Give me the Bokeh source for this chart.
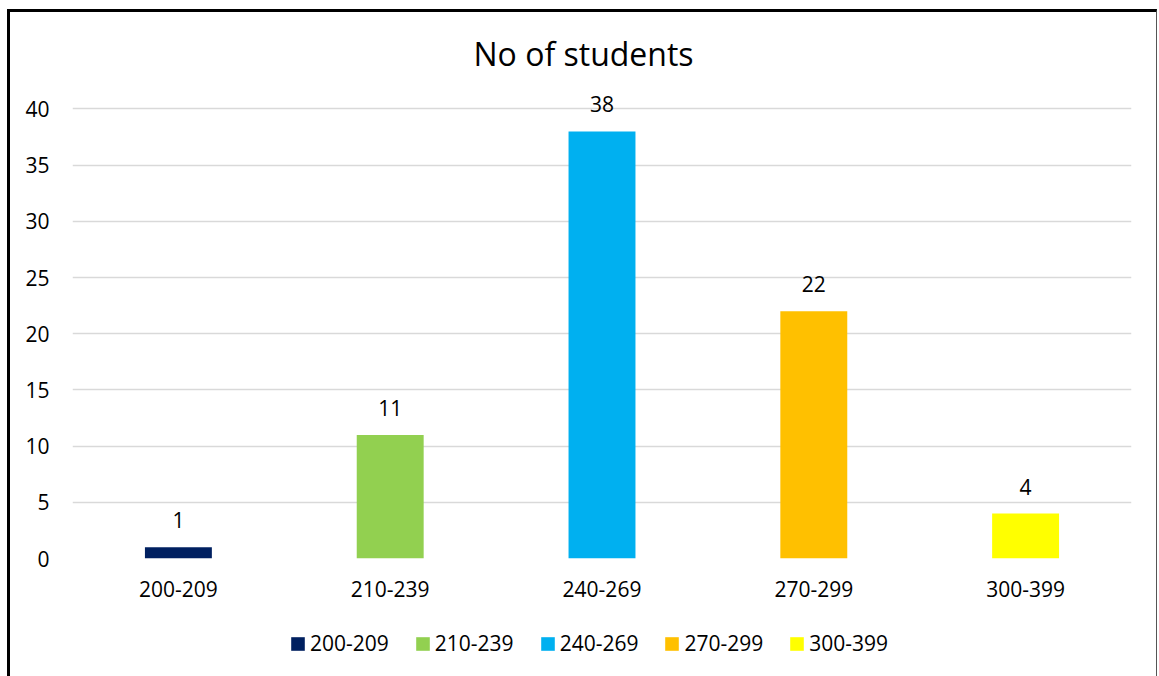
from bokeh.plotting import figure
from bokeh.layouts import column
from bokeh.models import ColumnDataSource, FactorRange, Range1d, FixedTicker, Legend, LegendItem
from bokeh.core.properties import value
from bokeh.embed import file_html
from bokeh.resources import INLINE

categories = ["200-209", "210-239", "240-269", "270-299", "300-399"]
students = [1, 11, 38, 22, 4]
colors = ["#002060", "#92D050", "#00B0F0", "#FFC000", "#FFFF00"]
y_ticks = [0, 5, 10, 15, 20, 25, 30, 35, 40]
title_text = "No of students"

FONT = "Open Sans"

src = ColumnDataSource(dict(cat=categories, val=students, color=colors,
                            lbl=[str(v) for v in students]))

p = figure(x_range=FactorRange(*categories), y_range=Range1d(0, 42),
           width=1146, height=598, output_backend="svg", toolbar_location=None,
           min_border_left=62, min_border_right=25, min_border_top=74,
           min_border_bottom=52, title=title_text)

p.title.align = "left"
p.title.offset = 401
p.title.text_font = FONT
p.title.text_font_size = "32px"
p.title.text_font_style = "normal"
p.title.text_color = "#000000"
p.title.standoff = 24

p.outline_line_color = None
p.background_fill_color = "white"
p.border_fill_color = "white"

p.xgrid.grid_line_color = None
p.ygrid.grid_line_color = "#d9d9d9"
p.ygrid.grid_line_width = 1.5
p.yaxis.ticker = FixedTicker(ticks=y_ticks)

for ax in (p.xaxis[0], p.yaxis[0]):
    ax.axis_line_color = None
    ax.major_tick_line_color = None
    ax.minor_tick_line_color = None
    ax.major_label_text_font = FONT
    ax.major_label_text_font_size = "21px"
    ax.major_label_text_color = "#000000"
p.yaxis.major_label_standoff = 17
p.xaxis.major_label_standoff = 16

p.vbar(x="cat", top="val", width=0.316, color="color", line_color=None, source=src)

p.text(x="cat", y="val", text="lbl", source=src, text_align="center",
       text_baseline="alphabetic", y_offset=-27, text_font=value(FONT),
       text_font_size="21px", text_color="#000000")

# legend strip below the chart
lf = figure(x_range=FactorRange(*categories), y_range=Range1d(100, 101),
            width=1146, height=66, output_backend="svg", toolbar_location=None,
            x_axis_type=None, y_axis_type=None,
            min_border_left=0, min_border_right=0, min_border_top=0, min_border_bottom=0)
lf.outline_line_color = None
lf.xgrid.visible = False
lf.ygrid.visible = False
lf.background_fill_color = "white"
lf.border_fill_color = "white"
lr = lf.vbar(x="cat", top="val", width=0.316, color="color", line_color=None, source=src)

legend = Legend(items=[LegendItem(label=categories[i], renderers=[lr], index=i)
                       for i in range(len(categories))],
                orientation="horizontal", location=(217, 19),
                glyph_width=17, glyph_height=17, label_standoff=4, spacing=25,
                label_text_font=FONT, label_text_font_size="21px",
                label_text_color="#000000", border_line_color=None,
                background_fill_alpha=0, margin=0, padding=10)
lf.add_layout(legend, "center")

layout = column(p, lf, spacing=0)
layout.styles = {"margin-left": "7px", "margin-top": "9px",
                 "border-top": "3px solid black", "border-left": "3px solid black",
                 "border-right": "1px solid #555555"}

open("out.html", "w").write(file_html(layout, INLINE))
